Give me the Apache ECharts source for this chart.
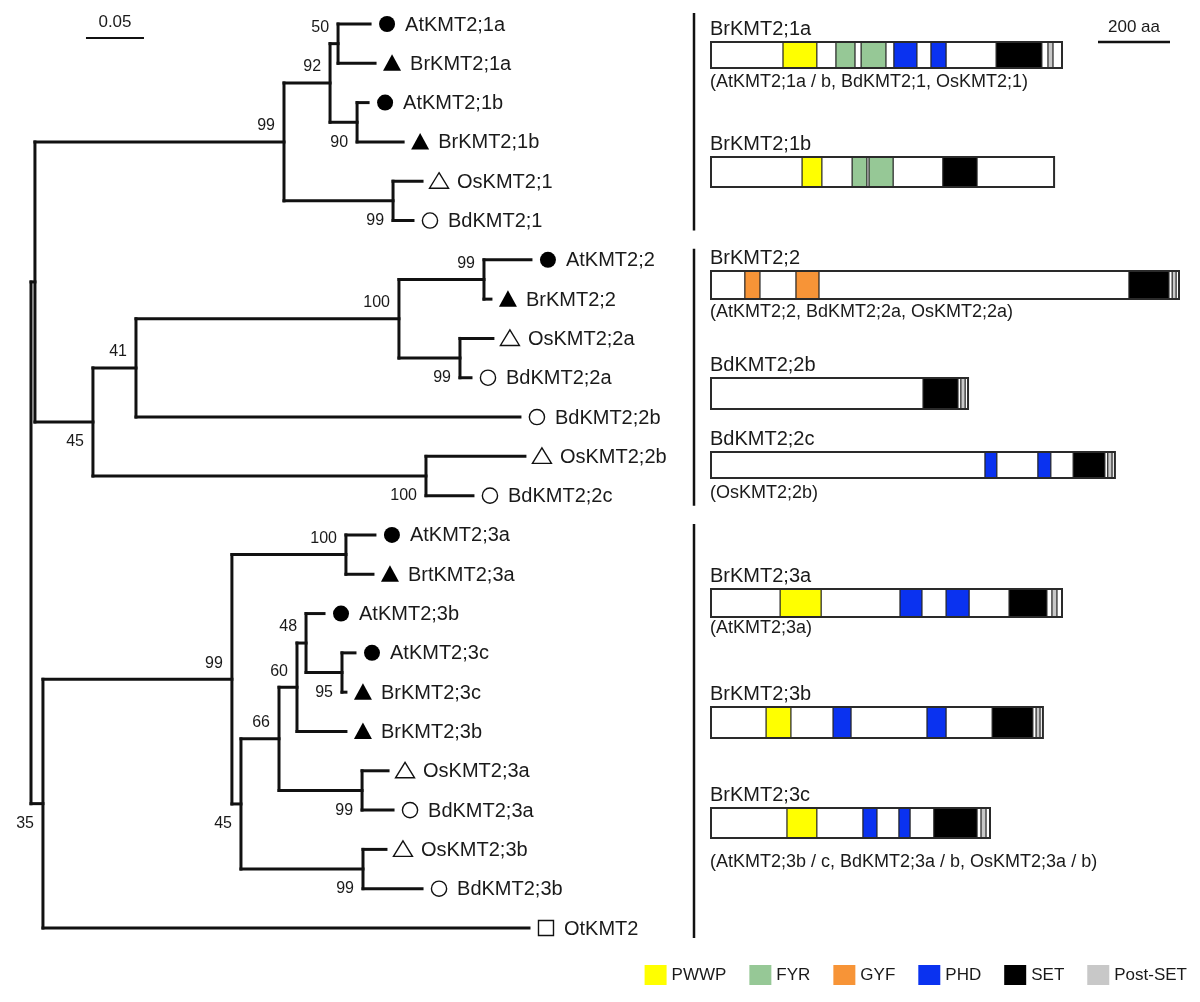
<!DOCTYPE html>
<html><head><meta charset="utf-8">
<script src="https://cdn.jsdelivr.net/npm/echarts@6/dist/echarts.min.js"></script>
<style>html,body{margin:0;padding:0;background:#fff}#c{width:1200px;height:1002px}</style>
</head><body><div id="c"></div>
<script>
// ================= DATA =================
// Phylogenetic tree (rectangular layout): node ids, parent, branch length (subst./site), bootstrap support
const nodeIds = ['root','A','N1','N92','N50','AtKMT2;1a','BrKMT2;1a','N90','AtKMT2;1b','BrKMT2;1b','NOB1','OsKMT2;1','BdKMT2;1',
  'N45','N41','N100a','N99a','AtKMT2;2','BrKMT2;2','N99b','OsKMT2;2a','BdKMT2;2a','BdKMT2;2b','N100b','OsKMT2;2b','BdKMT2;2c',
  'C','N99c','N100c','AtKMT2;3a','BrtKMT2;3a','N45c','N66','N60','N48','AtKMT2;3b','N95','AtKMT2;3c','BrKMT2;3c','BrKMT2;3b',
  'N99d','OsKMT2;3a','BdKMT2;3a','N99e','OsKMT2;3b','BdKMT2;3b','OtKMT2'];
const nodeParents = [null,'root','A','N1','N92','N50','N50','N92','N90','N90','N1','NOB1','NOB1',
  'A','N45','N41','N100a','N99a','N99a','N100a','N99b','N99b','N41','N45','N100b','N100b',
  'root','C','N99c','N100c','N100c','N99c','N45c','N66','N60','N48','N48','N95','N95','N60',
  'N66','N99d','N99d','N45c','N99e','N99e','C'];
const branchLengths = [0,0.0034,0.2147,0.0397,0.0069,0.0276,0.0319,0.0233,0.0095,0.0397,0.0940,0.0250,0.0172,
  0.0500,0.0371,0.2267,0.0733,0.0405,0.0060,0.0526,0.0284,0.0095,0.3310,0.2871,0.0853,0.0405,
  0.0103,0.1629,0.0983,0.0250,0.0233,0.0078,0.0328,0.0155,0.0078,0.0155,0.0310,0.0112,0.0034,0.0422,
  0.0716,0.0224,0.0267,0.1052,0.0198,0.0509,0.4190];
const bootstrap = [null,null,99,92,50,null,null,90,null,null,99,null,null,
  45,41,100,99,null,null,99,null,null,null,100,null,null,
  35,99,100,null,null,45,66,60,48,null,95,null,null,null,
  99,null,null,99,null,null,null];
const treeScaleValue = 0.05;

// Domain architecture (aa)
const proteinNames = ['BrKMT2;1a','BrKMT2;1b','BrKMT2;2','BdKMT2;2b','BdKMT2;2c','BrKMT2;3a','BrKMT2;3b','BrKMT2;3c'];
const proteinLengths = [975, 953, 1300, 714, 1122, 975, 922, 775];
const proteinNotes = ['(AtKMT2;1a / b, BdKMT2;1, OsKMT2;1)', '', '(AtKMT2;2, BdKMT2;2a, OsKMT2;2a)', '', '(OsKMT2;2b)',
  '(AtKMT2;3a)', '', '(AtKMT2;3b / c, BdKMT2;3a / b, OsKMT2;3a / b)'];
// [protein index, start aa, end aa]
const domPWWP = [[0,200,294],[1,253,308],[5,192,306],[6,153,222],[7,211,294]];
const domFYR = [[0,347,400],[0,417,486],[1,392,433],[1,439,506]];
const domGYF = [[2,94,136],[2,236,300]];
const domPHD = [[0,508,572],[0,611,653],[4,761,794],[4,908,944],[5,525,586],[5,653,717],[6,339,389],[6,600,653],[7,422,461],[7,522,553]];
const domSET = [[0,792,919],[1,644,739],[2,1161,1272],[3,589,686],[4,1006,1094],[5,828,933],[6,781,894],[7,619,739]];
const domPostSET = [[0,936,950],[2,1281,1292],[3,694,706],[4,1102,1114],[5,947,961],[6,903,914],[7,750,764]];
const domainTypes = ['PWWP','FYR','GYF','PHD','SET','Post-SET'];
const aaScaleValue = 200;

// ================= LAYOUT / STYLE =================
const FONT = '"Liberation Sans", Arial, Helvetica, sans-serif';
const domainColors = {'PWWP':'#ffff00','FYR':'#96c896','GYF':'#f79437','PHD':'#0a32f0','SET':'#000000','Post-SET':'#c8c8c8'};
const supportAbove = {'N1':1,'N92':1,'N50':1,'N99a':1,'N100a':1,'N41':1,'N99c':1,'N100c':1,'N66':1,'N60':1,'N48':1};
const rowCenterY = [55, 172, 285, 393.5, 465, 603, 722.5, 823];
const rowHeight = [26, 30, 28, 31, 26, 28, 31, 30];
const rowNoteY = [82, null, 312, null, 493, 628, null, 862];
const cladeLeafRanges = [[0,5],[6,12],[13,23]];
const separatorX = 694;
const treeScaleStart = 0.0474, treeScaleY = 38;
const aaScaleStart = 1075, aaScaleY = 42;

// ================= TREE LAYOUT =================
const idx = {}; nodeIds.forEach((id, i) => idx[id] = i);
const children = nodeIds.map(() => []);
nodeParents.forEach((p, i) => { if (p !== null) children[idx[p]].push(i); });
const X = [], Y = [];
let leafCounter = 0;
const leafList = [];
(function lay(i, x) {
  X[i] = x;
  if (!children[i].length) { Y[i] = leafCounter++; leafList.push(i); }
  else {
    children[i].forEach(c => lay(c, x + branchLengths[c]));
    const cs = children[i];
    Y[i] = (Y[cs[0]] + Y[cs[cs.length - 1]]) / 2;
  }
})(0, 0);

const LINE = '#111';
function txt(x, y, text, size, align, extra) {
  return Object.assign({type: 'text', x: x, y: y, style: {text: text, fill: '#1a1a1a', font: size + 'px ' + FONT, align: align || 'left', verticalAlign: 'middle'}}, extra || {});
}

const treeData = nodeIds.map((id, i) => [X[i], Y[i]]);
const leafData = leafList.map(i => [X[i], Y[i]]);
const supportIdx = nodeIds.map((id, i) => i).filter(i => bootstrap[i] !== null);
const supportData = supportIdx.map(i => [X[i], Y[i]]);

function speciesOf(name) { return name.slice(0, 2); }

const series = [];
// branches
series.push({
  type: 'custom', xAxisIndex: 0, yAxisIndex: 0, clip: false, silent: true, data: treeData,
  renderItem: function (params, api) {
    const i = params.dataIndex;
    const p = api.coord([X[i], Y[i]]);
    const kids = [];
    if (nodeParents[i] !== null) {
      const px = api.coord([X[idx[nodeParents[i]]], Y[i]])[0];
      kids.push({type: 'line', shape: {x1: px, y1: p[1], x2: p[0], y2: p[1]}, style: {stroke: LINE, lineWidth: 3, lineCap: 'square'}});
    }
    const cs = children[i];
    if (cs.length) {
      const a = api.coord([X[i], Y[cs[0]]])[1], b = api.coord([X[i], Y[cs[cs.length - 1]]])[1];
      kids.push({type: 'line', shape: {x1: p[0], y1: a, x2: p[0], y2: b}, style: {stroke: LINE, lineWidth: 3, lineCap: 'square'}});
    }
    return {type: 'group', children: kids};
  }
});
// leaves: symbols + names
series.push({
  type: 'custom', xAxisIndex: 0, yAxisIndex: 0, clip: false, silent: true, data: leafData,
  renderItem: function (params, api) {
    const i = leafList[params.dataIndex];
    const name = nodeIds[i];
    const p = api.coord([X[i], Y[i]]);
    const cx = p[0] + 17, cy = p[1];
    const sp = speciesOf(name);
    let sym;
    if (sp === 'At') sym = {type: 'circle', shape: {cx: cx, cy: cy, r: 8}, style: {fill: '#000'}};
    else if (sp === 'Bd') sym = {type: 'circle', shape: {cx: cx, cy: cy, r: 7.6}, style: {fill: '#fff', stroke: '#111', lineWidth: 1.4}};
    else if (sp === 'Br') sym = {type: 'polygon', shape: {points: [[cx, cy - 9], [cx + 9, cy + 7.5], [cx - 9, cy + 7.5]]}, style: {fill: '#000'}};
    else if (sp === 'Os') sym = {type: 'polygon', shape: {points: [[cx, cy - 8.5], [cx + 9.5, cy + 7], [cx - 9.5, cy + 7]]}, style: {fill: '#fff', stroke: '#111', lineWidth: 1.4}};
    else sym = {type: 'rect', shape: {x: cx - 7.5, y: cy - 7.5, width: 15, height: 15}, style: {fill: '#fff', stroke: '#111', lineWidth: 1.4}};
    return {type: 'group', children: [sym, txt(cx + 18, cy + 1, name, 20, 'left')]};
  }
});
// bootstrap values
series.push({
  type: 'custom', xAxisIndex: 0, yAxisIndex: 0, clip: false, silent: true, data: supportData,
  renderItem: function (params, api) {
    const i = supportIdx[params.dataIndex];
    const p = api.coord([X[i], Y[i]]);
    const above = supportAbove[nodeIds[i]];
    return txt(p[0] - 9, p[1] + (above ? -16 : 20), String(bootstrap[i]), 16, 'right');
  }
});
// clade separators
series.push({
  type: 'custom', xAxisIndex: 0, yAxisIndex: 0, clip: false, silent: true, data: cladeLeafRanges.map(r => [0, r[0]]),
  renderItem: function (params, api) {
    const r = cladeLeafRanges[params.dataIndex];
    const a = api.coord([0, r[0]])[1] - 11, b = api.coord([0, r[1]])[1] + 10;
    return {type: 'line', shape: {x1: separatorX, y1: a, x2: separatorX, y2: b}, style: {stroke: LINE, lineWidth: 2.5}};
  }
});
// tree scale bar
series.push({
  type: 'custom', xAxisIndex: 0, yAxisIndex: 0, clip: false, silent: true, data: [[treeScaleStart, 0]],
  renderItem: function (params, api) {
    const a = api.coord([treeScaleStart, 0])[0], b = api.coord([treeScaleStart + treeScaleValue, 0])[0];
    return {type: 'group', children: [
      {type: 'line', shape: {x1: a, y1: treeScaleY, x2: b, y2: treeScaleY}, style: {stroke: LINE, lineWidth: 2}},
      txt((a + b) / 2, treeScaleY - 16, String(treeScaleValue), 17, 'center')
    ]};
  }
});

// domain bars
const allDomains = [];
[domPWWP, domFYR, domGYF, domPHD, domSET, domPostSET].forEach((arr, t) => arr.forEach(d => allDomains.push({row: d[0], s: d[1], e: d[2], type: domainTypes[t]})));
series.push({
  type: 'custom', xAxisIndex: 1, yAxisIndex: 1, clip: false, silent: true, data: proteinNames.map((n, r) => [0, rowCenterY[r]]),
  renderItem: function (params, api) {
    const r = params.dataIndex;
    const cy = rowCenterY[r], h = rowHeight[r], top = cy - h / 2;
    const x0 = api.coord([0, cy])[0], x1 = api.coord([proteinLengths[r], cy])[0];
    const kids = [{type: 'rect', shape: {x: x0, y: top, width: x1 - x0, height: h}, style: {fill: '#fff'}}];
    allDomains.filter(d => d.row === r).forEach(d => {
      const a = api.coord([d.s, cy])[0], b = api.coord([d.e, cy])[0];
      kids.push({type: 'rect', shape: {x: a, y: top, width: b - a, height: h}, style: {fill: domainColors[d.type], stroke: '#222', lineWidth: 1.2}});
    });
    kids.push({type: 'rect', shape: {x: x0, y: top, width: x1 - x0, height: h}, style: {fill: null, stroke: '#2a2a2a', lineWidth: 2}});
    kids.push(txt(x0 - 1, top - 13, proteinNames[r], 20, 'left'));
    if (proteinNotes[r]) kids.push(txt(x0 - 1, rowNoteY[r], proteinNotes[r], 18, 'left'));
    return {type: 'group', children: kids};
  }
});
// aa scale bar
series.push({
  type: 'custom', xAxisIndex: 1, yAxisIndex: 1, clip: false, silent: true, data: [[aaScaleStart, aaScaleY]],
  renderItem: function (params, api) {
    const a = api.coord([aaScaleStart, aaScaleY])[0], b = api.coord([aaScaleStart + aaScaleValue, aaScaleY])[0];
    return {type: 'group', children: [
      {type: 'line', shape: {x1: a, y1: aaScaleY, x2: b, y2: aaScaleY}, style: {stroke: LINE, lineWidth: 2.5}},
      txt((a + b) / 2, aaScaleY - 15, aaScaleValue + ' aa', 17, 'center')
    ]};
  }
});
// legend entries
domainTypes.forEach(t => series.push({type: 'scatter', name: t, xAxisIndex: 1, yAxisIndex: 1, data: [], itemStyle: {color: domainColors[t], opacity: 1}}));

const chart = echarts.init(document.getElementById('c'), null, {renderer: 'canvas', width: 1200, height: 1002});
chart.setOption({
  animation: false,
  backgroundColor: '#fff',
  grid: [
    {left: 31, top: 24, width: 580, height: 904},
    {left: 711, top: 0, width: 486, height: 1002}
  ],
  xAxis: [
    {type: 'value', gridIndex: 0, min: 0, max: 0.5, show: false},
    {type: 'value', gridIndex: 1, min: 0, max: 1350, show: false}
  ],
  yAxis: [
    {type: 'value', gridIndex: 0, min: 0, max: 23, inverse: true, show: false},
    {type: 'value', gridIndex: 1, min: 0, max: 1002, inverse: true, show: false}
  ],
  legend: {
    data: domainTypes, icon: 'rect', right: 8, top: 960, itemWidth: 22, itemHeight: 20, itemGap: 23,
    selectedMode: false, itemStyle: {opacity: 1}, textStyle: {fontSize: 17, color: '#1a1a1a', fontFamily: FONT}
  },
  series: series
});
</script>
</body></html>
